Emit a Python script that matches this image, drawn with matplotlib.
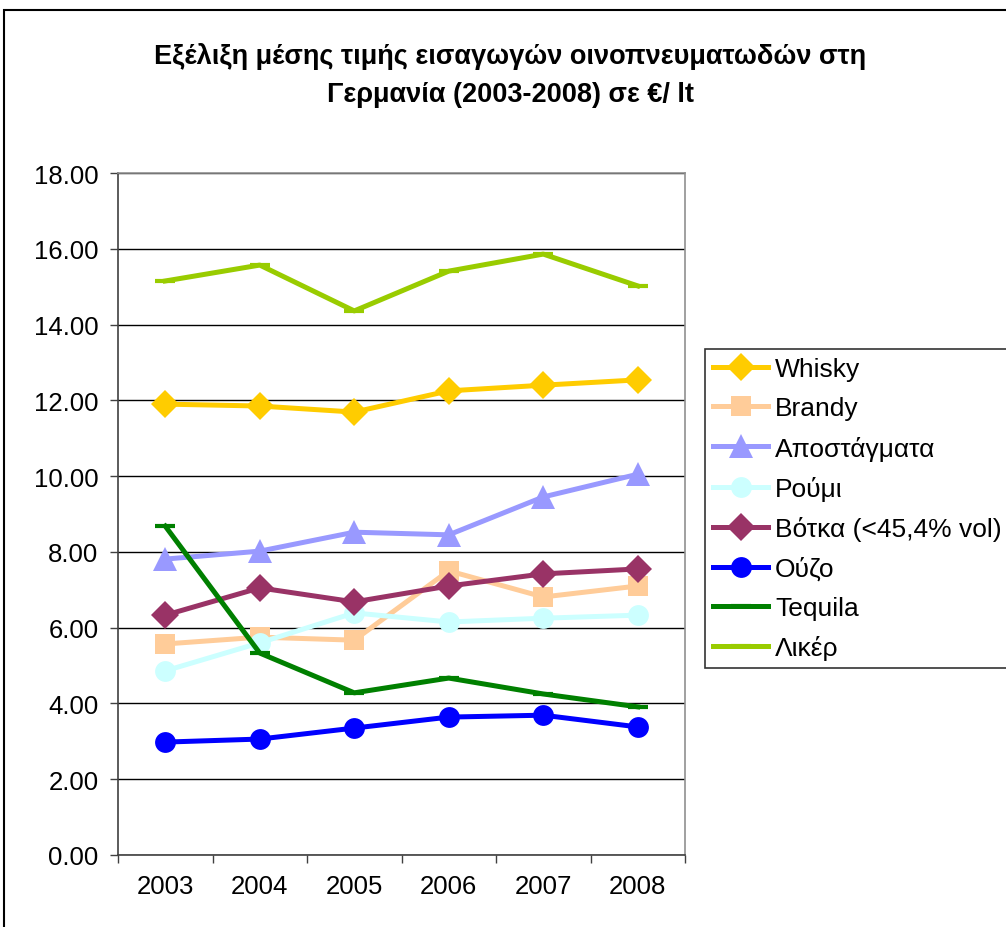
import matplotlib.pyplot as plt
from matplotlib.patches import Rectangle
import numpy as np

plt.rcParams['font.family'] = ['Liberation Sans', 'DejaVu Sans']

years = ['2003', '2004', '2005', '2006', '2007', '2008']

whisky = [11.90, 11.85, 11.69, 12.25, 12.40, 12.54]
brandy = [5.57, 5.75, 5.67, 7.50, 6.81, 7.10]
apostagmata = [7.81, 8.02, 8.52, 8.45, 9.45, 10.05]
roumi = [4.86, 5.60, 6.39, 6.15, 6.25, 6.33]
votka = [6.33, 7.05, 6.68, 7.10, 7.42, 7.55]
ouzo = [2.98, 3.06, 3.35, 3.64, 3.69, 3.38]
tequila = [8.68, 5.33, 4.28, 4.67, 4.25, 3.91]
liker = [15.15, 15.57, 14.36, 15.41, 15.86, 15.02]

series = [
    ('Whisky', whisky, '#FFCC00', 'D', 14),
    ('Brandy', brandy, '#FFCC99', 's', 14),
    ('Αποστάγματα', apostagmata, '#9999FF', '^', 17),
    ('Ρούμι', roumi, '#CCFFFF', 'o', 15),
    ('Βότκα (<45,4% vol)', votka, '#993366', 'D', 14),
    ('Ούζο', ouzo, '#0000FF', 'o', 15),
    ('Tequila', tequila, '#008000', '_', 14),
    ('Λικέρ', liker, '#99CC00', '_', 14),
]

fig = plt.figure(figsize=(10.06, 9.28), dpi=100)
ax = fig.add_axes([118 / 1006, 72 / 928, 567 / 1006, 682 / 928])

x = np.arange(len(years))
for name, vals, col, mk, ms in series:
    ax.plot(x, vals, color=col, lw=3.6, marker=mk, markersize=ms,
            markeredgewidth=3 if mk == '_' else 0, markerfacecolor=col,
            markeredgecolor=col, label=name)

ax.set_xlim(-0.5, 5.5)
ax.set_ylim(0, 18)
ax.set_yticks(np.arange(0, 18.1, 2))
ax.set_yticklabels(['%.2f' % v for v in np.arange(0, 18.1, 2)])
ax.set_xticks(x)
ax.set_xticklabels(years)
ax.set_xticks(np.arange(-0.5, 5.6, 1), minor=True)
ax.tick_params(axis='x', which='major', length=0, pad=14, labelsize=18.5)
ax.tick_params(axis='x', which='minor', length=6, width=1, color='#404040', direction='out')
ax.tick_params(axis='y', length=6, width=1, color='#404040', pad=8, labelsize=18.5)

ax.grid(axis='y', color='black', lw=1)
ax.set_axisbelow(True)
ax.spines['left'].set_color('#404040')
ax.spines['bottom'].set_color('#404040')
ax.spines['top'].set_color('#909090')
ax.spines['right'].set_color('#909090')
for s in ax.spines.values():
    s.set_linewidth(1.2)

leg = fig.legend(loc='upper left', bbox_to_anchor=(705 / 1006, 1 - 350 / 928),
                 fontsize=19, frameon=True, fancybox=False, edgecolor='black',
                 handlelength=2.1, handletextpad=0.25, labelspacing=0.58,
                 borderpad=0.3, borderaxespad=0)
leg.get_frame().set_linewidth(1.2)

fig.text(510 / 1006, 1 - 57 / 928, 'Εξέλιξη μέσης τιμής εισαγωγών οινοπνευματωδών στη',
         ha='center', va='center', fontsize=19.5, fontweight='bold')
fig.text(510 / 1006, 1 - 95 / 928, 'Γερμανία (2003-2008) σε €/ lt',
         ha='center', va='center', fontsize=19.5, fontweight='bold')

fig.patches.append(Rectangle((4 / 1006, -10 / 928), 1.0, (928 - 11 + 10) / 928,
                             transform=fig.transFigure, fill=False,
                             edgecolor='black', lw=1.5))

fig.savefig('out.png', dpi=100)
